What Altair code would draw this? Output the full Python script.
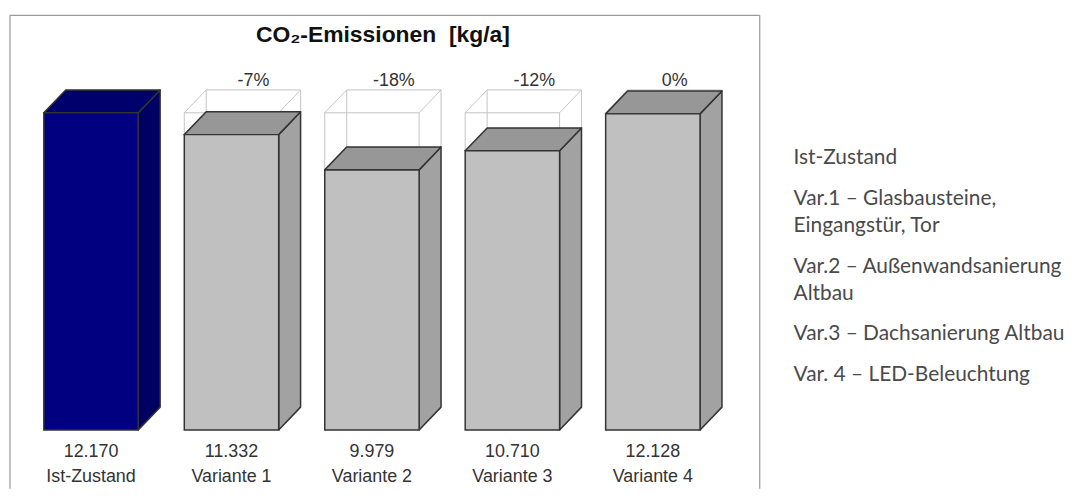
import altair as alt
import pandas as pd

# ---------------- data ----------------
categories = ["Ist-Zustand", "Variante 1", "Variante 2", "Variante 3", "Variante 4"]
emissions = [12170, 11332, 9979, 10710, 12128]
change_labels = ["", "-7%", "-18%", "-12%", "0%"]
baseline_value = 12170
legend_items = [
    ["Ist-Zustand"],
    ["Var.1 – Glasbausteine,", "Eingangstür, Tor"],
    ["Var.2 – Außenwandsanierung", "Altbau"],
    ["Var.3 – Dachsanierung Altbau"],
    ["Var. 4 – LED-Beleuchtung"],
]
title_text = "CO₂-Emissionen\u00a0\u00a0[kg/a]"

# ---------------- layout / style ----------------
PANEL_W, PANEL_H = 754, 476
RIGHT_W = 270
SPACING = 31
HALF = 0.336          # half width of bar front (in category units)
DEPTH_X = 0.156       # 3D depth in category units
DEPTH_Y = 877         # 3D depth in value units
X_DOMAIN = [-0.577, 4.761]
Y_DOMAIN = [-2251, 15909]

FRONT = ["#000080", "#c0c0c0", "#c0c0c0", "#c0c0c0", "#c0c0c0"]
TOP = ["#00006c", "#979797", "#979797", "#979797", "#979797"]
SIDE = ["#000062", "#a2a2a2", "#a2a2a2", "#a2a2a2", "#a2a2a2"]
EDGE = "#333333"
GHOST = "#c4c4c4"

xs = alt.Scale(domain=X_DOMAIN, nice=False, zero=False)
ys = alt.Scale(domain=Y_DOMAIN, nice=False, zero=False)


def fmt(v):
    return f"{v:,}".replace(",", ".")


front_rows, top_rows, side_rows, ghost_rows, label_rows = [], [], [], [], []
for i, (c, v) in enumerate(zip(categories, emissions)):
    l, r = i - HALF, i + HALF
    front_rows.append(dict(bar=c, x=l, x2=r, y=0, y2=v, fill=FRONT[i]))
    for xx, lo, hi in [(l, v, v), (l + DEPTH_X, v, v + DEPTH_Y),
                       (r, v, v + DEPTH_Y), (r + DEPTH_X, v + DEPTH_Y, v + DEPTH_Y)]:
        top_rows.append(dict(bar=c, x=xx, lo=lo, hi=hi, fill=TOP[i]))
    for xx, lo, hi in [(r, 0, v), (r + DEPTH_X, DEPTH_Y, v + DEPTH_Y)]:
        side_rows.append(dict(bar=c, x=xx, lo=lo, hi=hi, fill=SIDE[i]))
    label_rows.append(dict(bar=c, xc=i, xb=i + DEPTH_X, val=fmt(v), y0=0,
                           pct=change_labels[i], ytop=baseline_value + DEPTH_Y))
    if v < baseline_value and i > 0:
        G, D = baseline_value, DEPTH_Y
        segs = [
            (l, G, r, G), (l + DEPTH_X, G + D, r + DEPTH_X, G + D),
            (l, G, l + DEPTH_X, G + D), (r, G, r + DEPTH_X, G + D),
            (l, G, l, v), (r, G, r, v),
            (l + DEPTH_X, G + D, l + DEPTH_X, v + D), (r + DEPTH_X, G + D, r + DEPTH_X, v + D),
        ]
        for a, b, cc, d in segs:
            ghost_rows.append(dict(x=a, y=b, x2=cc, y2=d))

front_df = pd.DataFrame(front_rows)
top_df = pd.DataFrame(top_rows)
side_df = pd.DataFrame(side_rows)
ghost_df = pd.DataFrame(ghost_rows)
label_df = pd.DataFrame(label_rows)
# frame: top, left and right edges of the chart box (bottom runs off the picture)
x0, x1 = X_DOMAIN
y0, y1 = Y_DOMAIN
frame_df = pd.DataFrame({"x": [x0, x0, x1], "x2": [x1, x0, x1],
                         "y": [y1, y0, y0], "y2": [y1, y1, y1]})

X = lambda f: alt.X(f, scale=xs, axis=None)
Y = lambda f: alt.Y(f, scale=ys, axis=None)

frame = alt.Chart(frame_df).mark_rule(color="#9a9a9a", strokeWidth=1.2).encode(
    x=X("x:Q"), x2="x2:Q", y=Y("y:Q"), y2="y2:Q")

ghost = alt.Chart(ghost_df).mark_rule(color=GHOST, strokeWidth=1).encode(
    x=X("x:Q"), x2="x2:Q", y=Y("y:Q"), y2="y2:Q")

area_common = dict(stroke=EDGE, strokeWidth=1.5, strokeJoin="round")
side = alt.Chart(side_df).mark_area(**area_common).encode(
    x=X("x:Q"), y=Y("lo:Q"), y2="hi:Q",
    detail="bar:N", fill=alt.Fill("fill:N", scale=None))
top = alt.Chart(top_df).mark_area(**area_common).encode(
    x=X("x:Q"), y=Y("lo:Q"), y2="hi:Q",
    detail="bar:N", fill=alt.Fill("fill:N", scale=None))
front = alt.Chart(front_df).mark_rect(stroke=EDGE, strokeWidth=1.5).encode(
    x=X("x:Q"), x2="x2:Q", y=Y("y:Q"), y2="y2:Q",
    fill=alt.Fill("fill:N", scale=None))

txt = dict(font="Liberation Sans", fontSize=18, color="#333333", baseline="middle", align="center")
val_text = alt.Chart(label_df).mark_text(dy=22, **txt).encode(
    x=X("xc:Q"), y=Y("y0:Q"), text="val:N")
cat_text = alt.Chart(label_df).mark_text(dy=47, **txt).encode(
    x=X("xc:Q"), y=Y("y0:Q"), text="bar:N")
pct_text = alt.Chart(label_df).mark_text(dy=-9, **txt).encode(
    x=X("xb:Q"), y=Y("ytop:Q"), text="pct:N")

title = alt.Chart(pd.DataFrame({"t": [title_text], "xc": [2.078], "yt": [15150]})).mark_text(
    font="Liberation Sans", fontSize=23, fontWeight="bold", color="#111111",
    align="center", baseline="middle").encode(
    text="t:N", x=X("xc:Q"), y=Y("yt:Q"))

left = alt.layer(frame, ghost, side, top, front, val_text, cat_text, pct_text, title).properties(
    width=PANEL_W, height=PANEL_H)

# legend text panel
LINE_H, PARA_STEP, START = 27, 41, 144
leg_rows = []
pos = START
for item in legend_items:
    for j, line in enumerate(item):
        leg_rows.append(dict(line=line, pos=pos, x0=0))
        pos += LINE_H
    pos += PARA_STEP - LINE_H
leg_df = pd.DataFrame(leg_rows)

right = alt.Chart(leg_df).mark_text(
    align="left", baseline="middle", font="Lato", fontSize=21, color="#4a4a4a").encode(
    x=alt.X("x0:Q", scale=alt.Scale(domain=[0, RIGHT_W], nice=False), axis=None),
    y=alt.Y("pos:Q", scale=alt.Scale(domain=[0, PANEL_H], reverse=True, nice=False), axis=None),
    text="line:N").properties(width=RIGHT_W, height=PANEL_H)

chart = alt.hconcat(left, right, spacing=SPACING).properties(
    padding={"left": 0, "top": 4, "right": 0, "bottom": 0},
    background="white",
).configure_view(stroke="transparent")

chart.save("out.html", embed_options={"renderer": "svg", "actions": False})
